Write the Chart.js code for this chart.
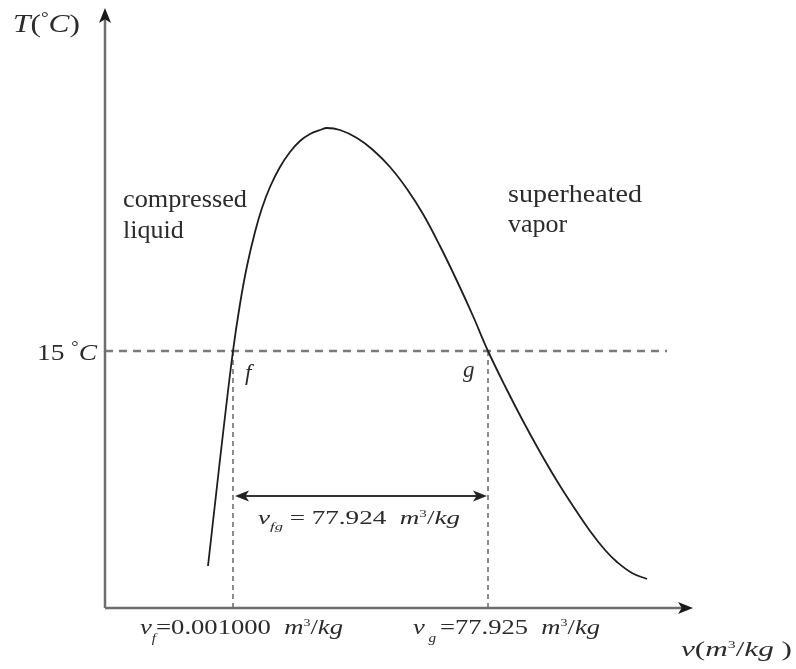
<!DOCTYPE html>
<html lang="en">
<head>
  <meta charset="UTF-8">
  <title>T-v diagram</title>
  <script src="https://cdn.jsdelivr.net/npm/chart.js"></script>
  <style>
    html, body { margin: 0; padding: 0; background: #fff; }
    #wrap { width: 796px; height: 669px; }
  </style>
</head>
<body>
  <div id="wrap"><canvas id="tv"></canvas></div>

  <script>
    // saturation dome (schematic), specific volume vs temperature
    const domeV = [103, 111, 119, 128, 135, 142, 150, 157, 165, 175, 185, 195, 205, 215, 222, 235, 252, 268, 285, 302, 318, 335, 352, 368, 383, 402, 418, 435, 452, 468, 485, 500, 512, 527, 542];
    const domeT = [42, 113, 183, 257, 304, 342, 376, 400, 421, 441, 456, 467, 474, 478, 480, 478, 470, 458, 441, 419, 394, 362, 327, 292, 257, 218, 187, 156, 127, 102, 77, 58, 46, 35, 29];

    // 15 C line and the f / g states
    const satT = 257;
    const vf = 128;
    const vg = 383;
    const lineEnd = 562;
    const arrowT = 112;

    const axisMax = { v: 588, T: 600 };

    const ink = '#2b2b2b';
    const serif = '"Liberation Serif", "DejaVu Serif", serif';

    // draws a run of text pieces [text, italic?, size, dy], stretched to width w if given
    function rich(ctx, x, y, parts, w) {
      ctx.save();
      ctx.textBaseline = 'alphabetic';
      ctx.textAlign = 'left';
      let total = 0;
      parts.forEach(p => {
        ctx.font = (p[1] ? 'italic ' : '') + p[2] + 'px ' + serif;
        total += ctx.measureText(p[0]).width;
      });
      ctx.translate(x, y);
      if (w) ctx.scale(w / total, 1);
      let cx = 0;
      parts.forEach(p => {
        ctx.font = (p[1] ? 'italic ' : '') + p[2] + 'px ' + serif;
        ctx.fillText(p[0], cx, p[3] || 0);
        cx += ctx.measureText(p[0]).width;
      });
      ctx.restore();
    }

    function arrowHead(ctx, x, y, dir, len, half) {
      ctx.save();
      ctx.translate(x, y);
      ctx.rotate(dir);
      ctx.beginPath();
      ctx.moveTo(0, 0);
      ctx.lineTo(-len, -half);
      ctx.lineTo(-len * 0.75, 0);
      ctx.lineTo(-len, half);
      ctx.closePath();
      ctx.fill();
      ctx.restore();
    }

    const decor = {
      id: 'decor',
      afterDraw(chart) {
        const ctx = chart.ctx;
        const a = chart.chartArea;
        const xs = chart.scales.x, ys = chart.scales.y;
        ctx.save();

        // axes
        ctx.strokeStyle = '#6e6e6e';
        ctx.fillStyle = '#1a1a1a';
        ctx.lineWidth = 2.5;
        ctx.beginPath();
        ctx.moveTo(a.left, a.bottom);
        ctx.lineTo(a.right - 8, a.bottom);
        ctx.moveTo(a.left, a.bottom);
        ctx.lineTo(a.left, a.top + 8);
        ctx.stroke();
        arrowHead(ctx, a.right, a.bottom, 0, 15, 6);
        arrowHead(ctx, a.left, a.top, -Math.PI / 2, 15, 6);

        // v_fg double arrow
        const yArr = ys.getPixelForValue(arrowT);
        const x1 = xs.getPixelForValue(vf) + 2, x2 = xs.getPixelForValue(vg) - 1;
        ctx.strokeStyle = '#333';
        ctx.lineWidth = 1.8;
        ctx.beginPath();
        ctx.moveTo(x1 + 6, yArr);
        ctx.lineTo(x2 - 6, yArr);
        ctx.stroke();
        ctx.fillStyle = '#222';
        arrowHead(ctx, x2, yArr, 0, 14, 5.5);
        arrowHead(ctx, x1, yArr, Math.PI, 14, 5.5);

        // labels
        ctx.fillStyle = ink;
        rich(ctx, 13, 32, [['T', true, 26], ['(', false, 26], ['°', false, 16, -9], ['C', true, 26], [')', false, 26]], 67);
        rich(ctx, 123, 207, [['compressed', false, 26]], 124);
        rich(ctx, 123, 238, [['liquid', false, 26]]);
        rich(ctx, 508, 202, [['superheated', false, 26]], 134);
        rich(ctx, 508, 232, [['vapor', false, 26]]);
        rich(ctx, 37, 360, [['15 ', false, 24], ['°', false, 16, -8], ['C', true, 24]], 60);
        rich(ctx, 245, 380, [['f', true, 23]]);
        rich(ctx, 463, 377, [['g', true, 23]]);
        rich(ctx, 258, 524, [['v', true, 18], ['fg', true, 11, 6], [' = 77.924  ', false, 18], ['m', true, 18], ['3', false, 10, -7], ['/', false, 18], ['kg', true, 18]], 202);
        rich(ctx, 140, 634, [['v', true, 21], ['f', true, 12, 8], ['=0.001000  ', false, 21], ['m', true, 21], ['3', false, 11, -8], ['/', false, 21], ['kg', true, 21]], 203);
        rich(ctx, 413, 634, [['v', true, 21], [' g ', true, 12, 8], ['=77.925  ', false, 21], ['m', true, 21], ['3', false, 11, -8], ['/', false, 21], ['kg', true, 21]], 187);
        rich(ctx, 681, 656, [['v', true, 22], ['(', false, 22], ['m', true, 22], ['3', false, 11, -8], ['/', false, 22], ['kg', true, 22], [' )', false, 22]], 111);

        ctx.restore();
      }
    };

    new Chart(document.getElementById('tv'), {
      type: 'scatter',
      data: {
        datasets: [
          {
            label: 'saturation dome',
            data: domeV.map((v, i) => ({ x: v, y: domeT[i] })),
            showLine: true,
            borderColor: '#1e1e1e',
            borderWidth: 1.8,
            pointRadius: 0,
            tension: 0.4
          },
          {
            label: '15 C',
            data: [{ x: 0, y: satT }, { x: lineEnd, y: satT }],
            showLine: true,
            borderColor: '#7a7a7a',
            borderWidth: 2.5,
            borderDash: [8, 6],
            pointRadius: 0
          },
          {
            label: 'vf',
            data: [{ x: vf, y: satT }, { x: vf, y: 0 }],
            showLine: true,
            borderColor: '#707070',
            borderWidth: 1.6,
            borderDash: [5, 4],
            pointRadius: 0
          },
          {
            label: 'vg',
            data: [{ x: vg, y: satT }, { x: vg, y: 0 }],
            showLine: true,
            borderColor: '#707070',
            borderWidth: 1.6,
            borderDash: [5, 4],
            pointRadius: 0
          }
        ]
      },
      options: {
        responsive: true,
        maintainAspectRatio: false,
        animation: false,
        layout: { padding: { left: 105, right: 103, top: 8, bottom: 61 } },
        plugins: { legend: { display: false }, tooltip: { enabled: false } },
        scales: {
          x: { type: 'linear', min: 0, max: axisMax.v, display: false },
          y: { type: 'linear', min: 0, max: axisMax.T, display: false }
        }
      },
      plugins: [decor]
    });
  </script>
</body>
</html>
